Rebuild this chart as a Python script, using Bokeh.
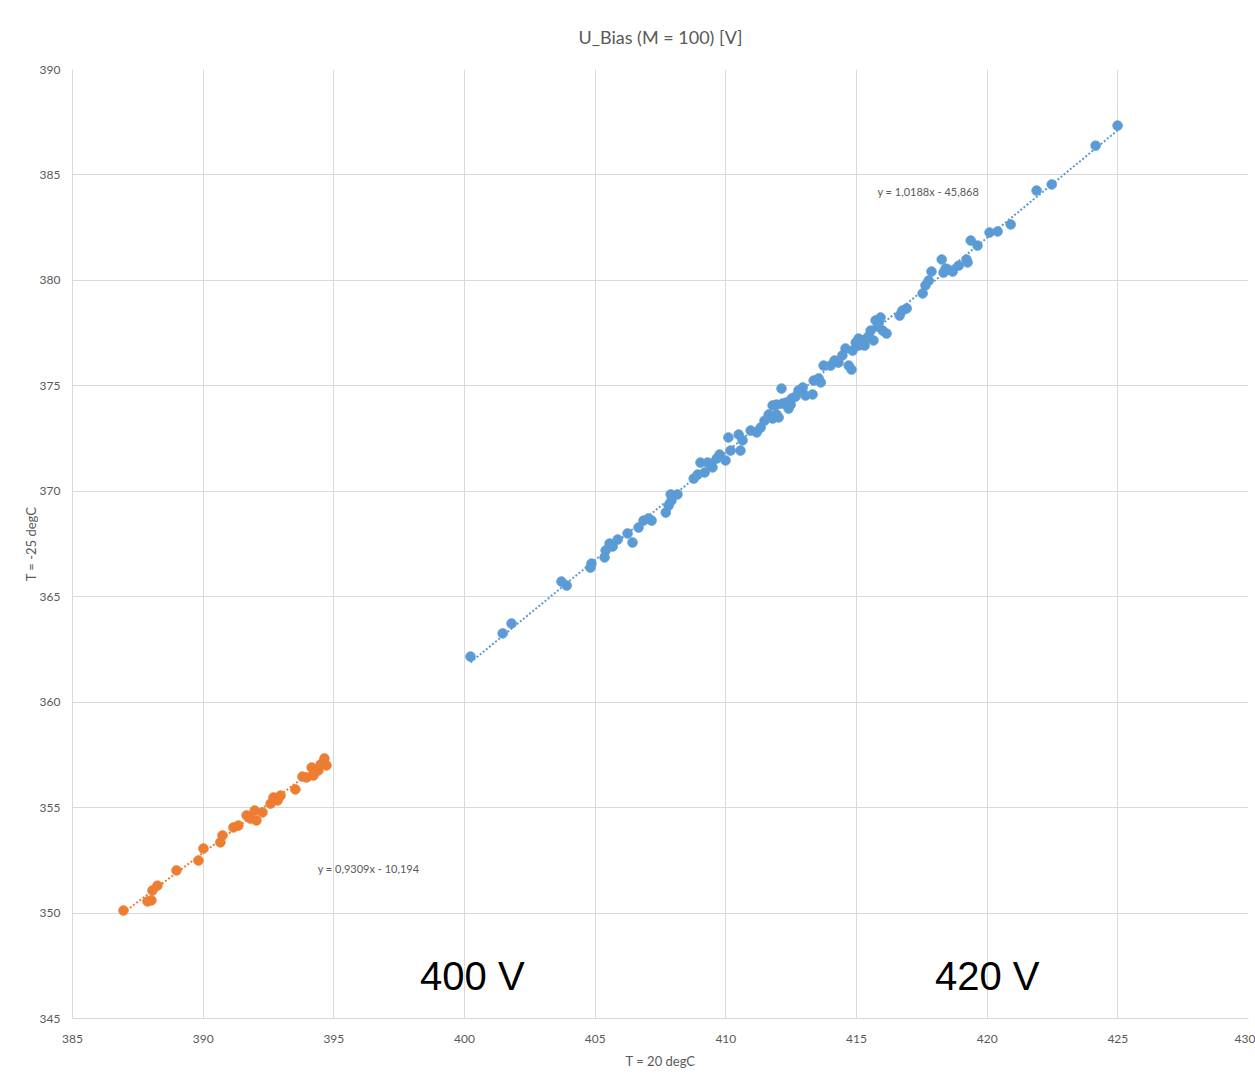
from bokeh.plotting import figure
from bokeh.models import Range1d, FixedTicker, ColumnDataSource, Label
from bokeh.embed import file_html
from bokeh.resources import INLINE

title_text = "U_Bias (M = 100) [V]"
x_label = "T = 20 degC"
y_label = "T = -25 degC"
x_ticks = [385, 390, 395, 400, 405, 410, 415, 420, 425, 430]
y_ticks = [345, 350, 355, 360, 365, 370, 375, 380, 385, 390]

# Orange series (lower group)
orange_x = [386.95, 387.87, 388.02, 388.06, 388.25, 388.98, 389.82, 390.01, 390.66, 390.74,
            391.16, 391.35, 391.66, 391.81, 391.97, 392.04, 392.27, 392.58, 392.69, 392.85,
            392.96, 393.53, 393.80, 393.96, 394.15, 394.22, 394.41, 394.49, 394.64, 394.72]
orange_y = [350.12, 350.55, 350.60, 351.07, 351.30, 352.02, 352.49, 353.06, 353.35, 353.68,
            354.06, 354.15, 354.63, 354.48, 354.86, 354.39, 354.77, 355.19, 355.48, 355.34,
            355.57, 355.86, 356.47, 356.43, 356.90, 356.52, 356.76, 357.04, 357.33, 357.00]

# Blue series (upper group)
blue_x = [400.23, 401.46, 401.80, 403.71, 403.91, 404.82, 404.86, 405.36, 405.40, 405.55,
          405.86, 406.24, 406.43, 406.66, 406.85, 407.04, 407.16, 407.70, 407.81, 407.89,
          407.92, 408.15, 408.77, 409.03, 409.19, 409.30, 409.49, 409.65, 409.76, 409.99,
          410.10, 410.18, 410.49, 410.56, 410.64, 410.95, 411.18, 411.33, 411.48, 411.64,
          411.79, 411.94, 412.02, 412.13, 412.17, 412.32, 412.40, 412.52, 412.67, 412.78,
          412.94, 413.05, 413.32, 413.36, 413.55, 413.63, 413.74, 414.01, 414.16, 414.31,
          414.46, 414.58, 414.70, 414.81, 414.85, 414.97, 415.08, 415.23, 415.39, 415.54,
          415.65, 415.73, 415.81, 415.92, 416.00, 416.15, 416.65, 416.76, 416.92, 417.53,
          417.64, 417.87, 418.26, 418.33, 418.52, 418.68, 418.91, 419.21, 419.25, 419.37,
          419.63, 420.09, 420.40, 420.90, 421.89, 422.47, 424.15, 424.99,
          405.67, 409.42, 408.92, 411.79, 411.94, 412.48, 415.08, 415.31, 415.46, 415.85,
          417.76, 418.41]
blue_y = [362.16, 363.26, 363.73, 365.72, 365.53, 366.38, 366.57, 366.86, 367.19, 367.52,
          367.71, 368.00, 367.57, 368.28, 368.61, 368.71, 368.61, 368.99, 369.32, 369.85,
          369.56, 369.85, 370.60, 371.36, 370.89, 371.36, 371.13, 371.55, 371.74, 371.46,
          372.55, 371.93, 372.69, 371.93, 372.41, 372.88, 372.79, 373.02, 373.35, 373.64,
          373.45, 373.64, 373.50, 374.87, 374.16, 374.21, 373.92, 374.40, 374.49, 374.78,
          374.92, 374.54, 374.59, 375.25, 375.35, 375.16, 375.96, 375.96, 376.20, 376.10,
          376.44, 376.77, 375.96, 375.77, 376.67, 377.05, 376.91, 377.15, 377.24, 377.62,
          377.15, 378.10, 377.81, 378.24, 377.62, 377.48, 378.33, 378.57, 378.67, 379.38,
          379.76, 380.42, 380.99, 380.37, 380.51, 380.42, 380.70, 380.99, 380.85, 381.89,
          381.65, 382.27, 382.32, 382.65, 384.26, 384.55, 386.39, 387.34,
          367.38, 371.31, 370.79, 374.07, 374.11, 374.11, 377.24, 376.91, 377.34, 378.00,
          379.99, 380.56]

# Linear trendlines (from the chart's equations)
orange_slope, orange_icpt = 0.9309, -10.194
blue_slope, blue_icpt = 1.0188, -45.868
orange_eq = "y = 0,9309x - 10,194"
blue_eq = "y = 1,0188x - 45,868"
annotations = ["400 V", "420 V"]
annotation_x = [400.3, 420.0]
annotation_y = [347.0, 347.0]

BLUE = "#5B9BD5"
ORANGE = "#ED7D31"
GRID = "#D9D9D9"
TXT = "#595959"
FONT = "Lato"

p = figure(width=1255, height=1090, output_backend="svg", toolbar_location=None,
           x_range=Range1d(385, 430), y_range=Range1d(345, 390),
           min_border_left=72, min_border_right=7, min_border_top=69, min_border_bottom=72)

p.title.text = title_text
p.title.align = "center"
p.title.text_font = FONT
p.title.text_font_size = "18px"
p.title.text_font_style = "normal"
p.title.text_color = TXT
p.title.standoff = 44

p.outline_line_color = None
p.background_fill_color = "white"
p.border_fill_color = "white"

for ax, ticks in ((p.xaxis[0], x_ticks), (p.yaxis[0], y_ticks)):
    ax.ticker = FixedTicker(ticks=ticks)
    ax.major_tick_line_color = None
    ax.minor_tick_line_color = None
    ax.axis_line_color = GRID
    ax.major_label_text_font = FONT
    ax.major_label_text_font_size = "12px"
    ax.major_label_text_color = TXT
    ax.axis_label_text_font = FONT
    ax.axis_label_text_font_size = "13px"
    ax.axis_label_text_font_style = "normal"
    ax.axis_label_text_color = TXT
p.xaxis.axis_label = x_label
p.yaxis.axis_label = y_label
p.xaxis.major_label_standoff = 10
p.yaxis.major_label_standoff = 6
p.xaxis.axis_label_standoff = 7
p.yaxis.axis_label_standoff = -2

p.xgrid.ticker = FixedTicker(ticks=x_ticks)
p.ygrid.ticker = FixedTicker(ticks=y_ticks)
p.xgrid.grid_line_color = GRID
p.ygrid.grid_line_color = GRID

# trendlines
ox = [min(orange_x), max(orange_x)]
bx = [min(blue_x), max(blue_x)]
p.line(ox, [orange_slope * v + orange_icpt for v in ox], line_color=ORANGE,
       line_width=2, line_dash="2 2")
p.line(bx, [blue_slope * v + blue_icpt for v in bx], line_color=BLUE,
       line_width=2, line_dash="2 2")

p.scatter(blue_x, blue_y, size=9.5, fill_color=BLUE, line_color=BLUE)
p.scatter(orange_x, orange_y, size=9.5, fill_color=ORANGE, line_color=ORANGE)

p.add_layout(Label(x=415.8, y=384.2, text=blue_eq, text_font=FONT, text_font_size="11px",
                   text_color=TXT, text_baseline="middle"))
p.add_layout(Label(x=394.38, y=352.1, text=orange_eq, text_font=FONT, text_font_size="11px",
                   text_color=TXT, text_baseline="middle"))

src = ColumnDataSource(dict(x=annotation_x, y=annotation_y, t=annotations))
p.text(x="x", y="y", text="t", source=src, text_align="center", text_baseline="middle",
       text_font_size="40px", text_color="black",
       text_font={"value": "Liberation Sans"})

open("out.html", "w").write(file_html(p, INLINE))
